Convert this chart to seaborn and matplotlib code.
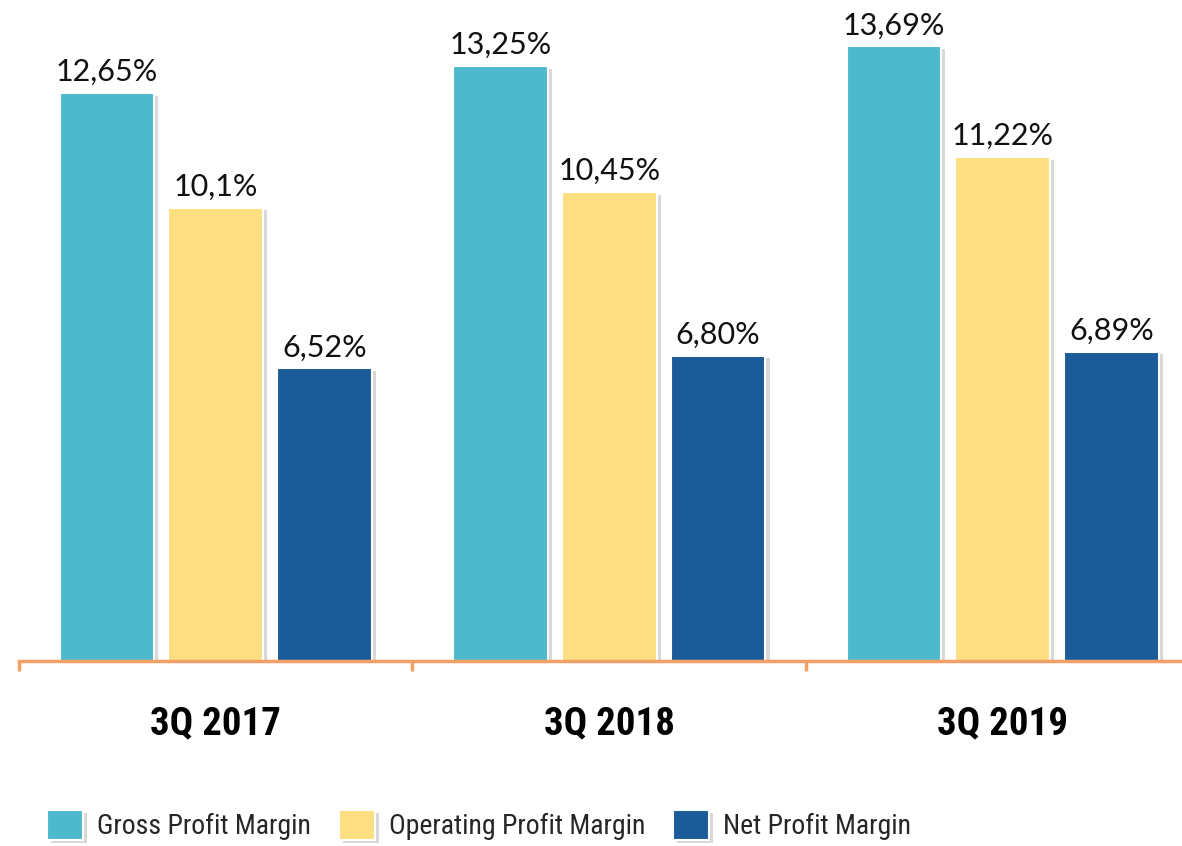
import pandas as pd
import matplotlib
matplotlib.use("Agg")
import matplotlib.pyplot as plt
import matplotlib.patheffects as pe
from matplotlib import font_manager
import seaborn as sns

# data
quarters = ["3Q 2017", "3Q 2018", "3Q 2019"]
gross = [12.65, 13.25, 13.69]
operating = [10.10, 10.45, 11.22]
net = [6.52, 6.80, 6.89]
gross_labels = ["12,65%", "13,25%", "13,69%"]
operating_labels = ["10,1%", "10,45%", "11,22%"]
net_labels = ["6,52%", "6,80%", "6,89%"]
series_names = ["Gross Profit Margin", "Operating Profit Margin", "Net Profit Margin"]
colors = ["#4CB9CD", "#FDDE81", "#1B5B9A"]

df = pd.DataFrame({
    "quarter": quarters * 3,
    "metric": [series_names[0]] * 3 + [series_names[1]] * 3 + [series_names[2]] * 3,
    "value": gross + operating + net,
})

sns.set_theme(style="white")
plt.rcParams['font.family'] = ['Lato', 'DejaVu Sans']

# pick a narrow family for the category / legend text if one exists
installed = {f.name for f in font_manager.fontManager.ttflist}
narrow = "DejaVu Sans"
for cand in ["Roboto Condensed", "Liberation Sans Narrow", "Open Sans Condensed"]:
    if cand in installed:
        narrow = cand
        break

W, H = 1182, 846
fig = plt.figure(figsize=(W / 100, H / 100), dpi=100)
# axes from x=19px to right edge, baseline at y=661px, top at figure top
ax = fig.add_axes([19 / W, (H - 661) / H, (W - 19) / W, 661 / H])

sns.barplot(data=df, x="quarter", y="value", hue="metric", palette=colors,
            width=0.83, gap=0.13, edgecolor="white", linewidth=1.5,
            saturation=1, ax=ax, legend=True)

shadow = [pe.SimplePatchShadow(offset=(3, -2), shadow_rgbFace="gray", alpha=0.3), pe.Normal()]
for bar in ax.patches:
    bar.set_path_effects(shadow)

for cont, labs in zip(ax.containers, [gross_labels, operating_labels, net_labels]):
    ax.bar_label(cont, labels=labs, padding=5, fontsize=22, color="#111111")

ax.set_xlim(-0.5, -0.5 + (W - 19) / 393.5)
ax.set_ylim(0, 661 / 44.9)
ax.set_yticks([])
ax.set_xlabel("")
ax.set_ylabel("")
for side in ["top", "right", "left"]:
    ax.spines[side].set_visible(False)
ax.spines["bottom"].set_color("#F2A066")
ax.spines["bottom"].set_linewidth(2.5)

ax.set_xticks(range(len(quarters)))
ax.set_xticklabels(quarters, fontsize=28, fontweight="bold", family=[narrow, "DejaVu Sans"])
ax.tick_params(axis="x", which="major", bottom=False, length=0, pad=32, colors="#000000")
ax.set_xticks([-0.5, 0.5, 1.5], minor=True)
ax.tick_params(axis="x", which="minor", bottom=True, length=7, width=2.5,
               color="#F2A066", direction="out")

handles, labels = ax.get_legend_handles_labels()
ax.get_legend().remove()
fig.legend(handles, labels, loc="center left", bbox_to_anchor=(47 / W, 21 / H),
           ncol=3, frameon=False, borderpad=0, borderaxespad=0,
           handlelength=1.3, handleheight=1.3, handletextpad=0.5, columnspacing=1.0,
           prop={"family": [narrow, "DejaVu Sans"], "size": 20})

fig.savefig("out.png", dpi=100)
